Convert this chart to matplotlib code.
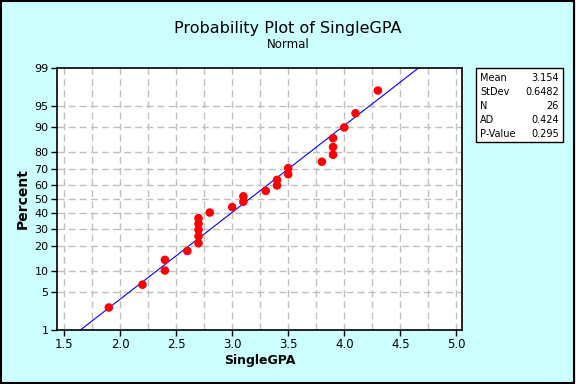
import matplotlib
matplotlib.use("Agg")
import matplotlib.pyplot as plt
from matplotlib.patches import Rectangle
from statistics import NormalDist
import numpy as np

# sorted SingleGPA values and their plotted percents (median ranks)
gpa = [1.9, 2.2, 2.4, 2.4, 2.6, 2.7, 2.7, 2.7, 2.7, 2.7, 2.8, 3.0, 3.1,
       3.1, 3.3, 3.4, 3.4, 3.5, 3.5, 3.8, 3.9, 3.9, 3.9, 4.0, 4.1, 4.3]
pct = [2.7, 6.4, 10.2, 14.0, 17.8, 21.6, 25.4, 29.2, 33.0, 36.7, 40.5, 44.3, 48.1,
       51.9, 55.7, 59.5, 63.3, 67.0, 70.8, 74.6, 78.4, 82.2, 86.0, 89.8, 93.6, 97.3]
mean, stdev = 3.154, 0.6482
stat_names = ["Mean", "StDev", "N", "AD", "P-Value"]
stat_vals = ["3.154", "0.6482", "26", "0.424", "0.295"]
y_ticks = [1, 5, 10, 20, 30, 40, 50, 60, 70, 80, 90, 95, 99]
x_ticks = [1.5, 2.0, 2.5, 3.0, 3.5, 4.0, 4.5, 5.0]

nd = NormalDist()
def z(p):
    return nd.inv_cdf(p / 100.0)

bg = "#ccffff"
fig = plt.figure(figsize=(5.76, 3.84), dpi=100, facecolor=bg)
fig.patches.append(Rectangle((0.002, 0.003), 0.995, 0.994, transform=fig.transFigure,
                             fill=False, edgecolor="black", lw=1.5))

W, H = 576.0, 384.0
ax = fig.add_axes([57 / W, 1 - 330 / H, (462 - 57) / W, (330 - 68) / H])
ax.set_facecolor("white")

ax.set_xlim(1.4375, 5.05)
ax.set_ylim(z(1), z(99))

# grid
for gx in np.arange(1.5, 5.01, 0.25):
    ax.axvline(gx, color="#c0c0c0", lw=1, ls=(0, (5, 3)), zorder=0)
for t in y_ticks[1:-1]:
    ax.axhline(z(t), color="#c0c0c0", lw=1, ls=(0, (5, 3)), zorder=0)

# fitted line
lo, hi = mean + stdev * z(1), mean + stdev * z(99)
ax.plot([lo, hi], [z(1), z(99)], color="#0000ff", lw=0.8, zorder=2)

# data points
ax.scatter(gpa, [z(p) for p in pct], s=38, color="#ff0000", edgecolor="none", zorder=3)

ax.set_yticks([z(t) for t in y_ticks])
ax.set_yticklabels([str(t) for t in y_ticks])
ax.set_xticks(x_ticks)
ax.set_xticklabels(["%.1f" % v for v in x_ticks])
ax.tick_params(labelsize=8, length=4, width=1, direction="out", pad=2)
ax.tick_params(axis="x", labelsize=8.5)
for s in ax.spines.values():
    s.set_linewidth(1.2)

ax.set_xlabel("SingleGPA", fontsize=9, fontweight="bold", labelpad=2)
ax.set_ylabel("Percent", fontsize=10, fontweight="bold", labelpad=3)

fig.text(0.5, 1 - 28 / H, "Probability Plot of SingleGPA", ha="center", va="center", fontsize=11.5)
fig.text(0.5, 1 - 45 / H, "Normal", ha="center", va="center", fontsize=8.5)

# stats box
bx0, by0, bx1, by1 = 476, 68, 563, 142
fig.patches.append(Rectangle((bx0 / W, 1 - by1 / H), (bx1 - bx0) / W, (by1 - by0) / H,
                             transform=fig.transFigure, facecolor="white",
                             edgecolor="black", lw=1))
for i, (n, v) in enumerate(zip(stat_names, stat_vals)):
    yy = 1 - (by0 + 10 + i * 14) / H
    fig.text((bx0 + 4) / W, yy, n, ha="left", va="center", fontsize=7)
    fig.text((bx1 - 4) / W, yy, v, ha="right", va="center", fontsize=7)

fig.savefig("out.png", dpi=100, facecolor=bg)
